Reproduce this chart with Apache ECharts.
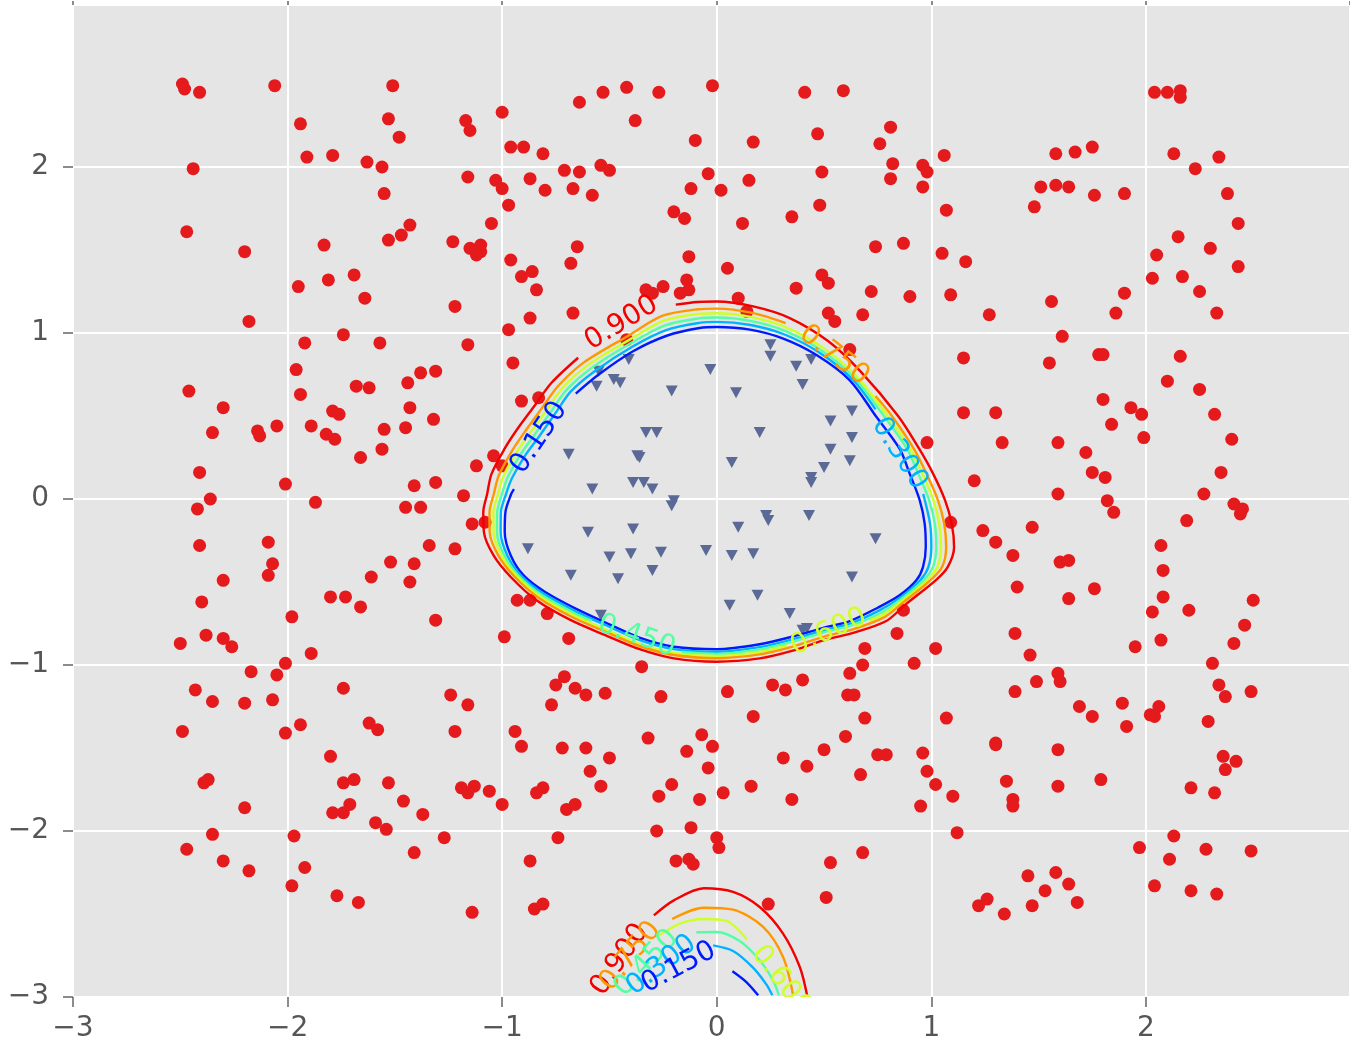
<!DOCTYPE html>
<html><head><meta charset="utf-8">
<script src="https://cdn.jsdelivr.net/npm/echarts/dist/echarts.min.js"></script>
<style>html,body{margin:0;padding:0;background:#fff}#c{width:1350px;height:1047px}</style>
</head><body><div id="c"></div><script>
// ---- data ----
const xTicks = [-3, -2, -1, 0, 1, 2];
const yTicks = [-3, -2, -1, 0, 1, 2];
const levels = [0.15, 0.30, 0.45, 0.60, 0.75, 0.90];
const levelText = ['0.150', '0.300', '0.450', '0.600', '0.750', '0.900'];
const levelColors = ['#001aff', '#00b3ff', '#52ffa4', '#ceff29', '#ff9700', '#f30000'];

const outsidePts = [
[-2.49,2.50],[-2.48,2.47],[-2.41,2.45],[-2.06,2.49],[-1.51,2.49],[-1.94,2.26],[-1.53,2.29],[-1.48,2.18],[-1.17,2.28],[-1.15,2.22],[-1.00,2.33],[-1.91,2.06],[-1.79,2.07],[-1.63,2.03],[-1.56,2.00],[-2.44,1.99],[-1.16,1.94],[-1.03,1.92],[-1.00,1.87],[-1.55,1.84],[-2.47,1.61],[-2.20,1.49],[-1.83,1.53],[-1.53,1.56],[-1.47,1.59],[-1.43,1.65],[-1.23,1.55],[-1.15,1.51],[-1.10,1.53],[-1.10,1.49],[-1.12,1.47],[-1.05,1.66],[-1.95,1.28],[-1.81,1.32],[-1.69,1.35],[-1.64,1.21],[-1.22,1.16],[-2.18,1.07],[-1.74,0.99],[-1.92,0.94],[-1.57,0.94],[-1.16,0.93],[-1.96,0.78],[-1.38,0.76],[-1.31,0.77],[-1.44,0.70],
[-1.68,0.68],[-1.62,0.67],[-2.46,0.65],[-1.94,0.63],[-2.30,0.55],[-1.43,0.55],[-1.79,0.53],[-1.76,0.51],[-1.32,0.48],[-2.35,0.40],[-2.14,0.41],[-2.13,0.38],[-2.05,0.44],[-1.89,0.44],[-1.82,0.39],[-1.78,0.36],[-1.55,0.42],[-1.45,0.43],[-1.56,0.30],[-1.66,0.25],[-1.12,0.20],[-1.04,0.26],[-1.00,0.20],[-2.41,0.16],[-2.01,0.09],[-1.41,0.08],[-1.31,0.10],[-1.18,0.02],[-2.36,0.00],[-2.42,-0.06],[-1.87,-0.02],[-1.45,-0.05],[-1.38,-0.05],[-1.14,-0.15],[-1.08,-0.14],[-2.41,-0.28],[-2.09,-0.26],[-2.07,-0.39],[-2.09,-0.46],[-1.34,-0.28],[-1.22,-0.30],[-1.52,-0.38],[-1.41,-0.39],[-1.61,-0.47],[-1.43,-0.50],[-2.30,-0.49],[-2.40,-0.62],[-1.80,-0.59],[-1.73,-0.59],[-1.66,-0.65],[-1.98,-0.71],[-1.31,-0.73],[-0.99,-0.83],[-2.50,-0.87],[-2.38,-0.82],[-2.30,-0.84],[-2.26,-0.89],[-1.89,-0.93],[-2.01,-0.99],[-2.17,-1.04],[-2.05,-1.06],[-1.74,-1.14],[-2.43,-1.15],[-1.24,-1.18],
[-2.35,-1.22],[-2.20,-1.23],[-2.07,-1.21],[-1.16,-1.24],[-2.49,-1.40],[-2.01,-1.41],[-1.94,-1.36],[-1.62,-1.35],[-1.58,-1.39],[-1.22,-1.40],[-1.80,-1.55],[-2.39,-1.71],[-2.37,-1.69],[-1.74,-1.71],[-1.69,-1.69],[-1.53,-1.71],[-1.19,-1.74],[-1.16,-1.77],[-1.13,-1.73],[-1.06,-1.76],[-1.00,-1.84],[-2.20,-1.86],[-1.79,-1.89],[-1.74,-1.89],[-1.71,-1.84],[-1.46,-1.82],[-1.37,-1.90],[-1.59,-1.95],[-1.54,-1.99],[-2.35,-2.02],[-1.97,-2.03],[-1.27,-2.04],[-2.47,-2.11],[-1.41,-2.13],[-2.30,-2.18],[-2.18,-2.24],[-1.92,-2.22],[-1.98,-2.33],[-1.77,-2.39],[-1.67,-2.43],[-1.14,-2.49],
[-0.64,2.39],[-0.53,2.45],[-0.42,2.48],[-0.27,2.45],[-0.02,2.49],[0.41,2.45],[0.59,2.46],[-0.38,2.28],[-0.96,2.12],[-0.90,2.12],[-0.81,2.08],[-0.10,2.16],[0.17,2.15],[0.47,2.20],[0.81,2.24],[0.76,2.14],[0.82,2.02],[0.81,1.93],[0.96,2.01],[0.96,1.88],[-0.87,1.93],[-0.80,1.86],[-0.97,1.77],[-0.71,1.98],[-0.64,1.97],[-0.67,1.87],[-0.54,2.01],[-0.50,1.98],[-0.58,1.83],[-0.04,1.96],[-0.12,1.87],[0.02,1.86],[0.15,1.92],[0.49,1.97],[0.48,1.77],[0.35,1.70],[0.12,1.66],[-0.20,1.73],[-0.15,1.69],[0.74,1.52],[0.87,1.54],[-0.96,1.44],[-0.65,1.52],[-0.68,1.42],[-0.91,1.34],[-0.86,1.37],[-0.84,1.26],[-0.13,1.46],[0.05,1.39],[-0.14,1.32],[-0.13,1.26],[-0.17,1.24],[-0.33,1.26],[-0.30,1.24],[-0.25,1.28],[0.49,1.35],[0.52,1.30],[0.37,1.27],[0.72,1.25],[0.90,1.22],[0.10,1.21],
[-0.87,1.09],[-0.67,1.12],[-0.97,1.02],[-0.95,0.82],[-0.91,0.59],[-0.83,0.61],[0.14,1.13],[0.52,1.12],[0.55,1.07],[0.68,1.11],[0.62,0.90],[-0.42,0.96],[-0.93,-0.61],[-0.87,-0.61],[-0.79,-0.69],[-0.69,-0.84],[-0.35,-1.01],[-0.71,-1.07],[-0.75,-1.12],[-0.66,-1.14],[0.26,-1.12],[0.32,-1.15],[0.40,-1.09],[0.62,-1.05],[0.68,-1.00],[0.69,-0.90],[0.84,-0.81],[0.92,-0.99],[0.87,-0.67],
[-0.61,-1.18],[-0.52,-1.17],[-0.26,-1.19],[0.05,-1.16],[0.61,-1.18],[0.64,-1.18],[-0.77,-1.24],[0.17,-1.31],[0.69,-1.32],[-0.94,-1.40],[-0.91,-1.49],[-0.72,-1.50],[-0.61,-1.50],[-0.50,-1.56],[-0.32,-1.44],[-0.14,-1.52],[-0.07,-1.42],[-0.02,-1.49],[-0.04,-1.62],[-0.59,-1.64],[-0.54,-1.73],[-0.84,-1.77],[-0.81,-1.74],[-0.70,-1.87],[-0.66,-1.84],[-0.21,-1.72],[-0.27,-1.79],[-0.08,-1.81],[0.03,-1.77],[0.16,-1.73],[0.31,-1.56],[0.42,-1.61],[0.50,-1.51],[0.60,-1.43],[0.67,-1.66],[0.75,-1.54],[0.79,-1.54],[0.96,-1.53],[0.95,-1.85],[0.35,-1.81],[-0.74,-2.04],[-0.87,-2.18],[-0.28,-2.00],[-0.12,-1.98],[0.00,-2.04],[0.01,-2.10],[-0.19,-2.18],[-0.13,-2.17],[-0.11,-2.20],[0.53,-2.19],[0.68,-2.13],[-0.85,-2.47],[-0.81,-2.44],[0.24,-2.44],[0.51,-2.40],
[2.04,2.45],[2.10,2.45],[2.16,2.46],[2.16,2.42],[1.06,2.07],[0.98,1.97],[1.07,1.74],[1.58,2.08],[1.67,2.09],[1.75,2.12],[2.13,2.08],[2.34,2.06],[2.23,1.99],[1.51,1.88],[1.58,1.89],[1.64,1.88],[1.76,1.83],[1.90,1.84],[1.48,1.76],[2.38,1.84],[2.43,1.66],[1.05,1.48],[1.16,1.43],[2.15,1.58],[2.05,1.47],[2.30,1.51],[2.03,1.33],[2.17,1.34],[2.43,1.40],[2.25,1.25],[1.09,1.23],[1.27,1.11],[1.56,1.19],[1.90,1.24],[1.86,1.12],[2.33,1.12],[1.61,0.98],[1.15,0.85],[1.55,0.82],[1.78,0.87],[1.80,0.87],[2.16,0.86],[2.10,0.71],
[2.25,0.66],[1.80,0.60],[1.93,0.55],[1.98,0.51],[1.84,0.45],[2.32,0.51],[1.99,0.37],[2.40,0.36],[1.15,0.52],[1.30,0.52],[0.98,0.34],[1.33,0.34],[1.59,0.34],[1.72,0.28],[1.20,0.11],[1.75,0.16],[1.81,0.13],[1.59,0.03],[2.35,0.16],[2.27,0.03],[1.82,-0.01],[1.85,-0.08],[2.41,-0.03],[2.45,-0.06],[2.44,-0.09],[2.19,-0.13],[1.09,-0.14],[1.24,-0.19],[1.30,-0.26],[1.47,-0.17],[1.38,-0.34],[1.60,-0.38],[1.64,-0.37],[2.07,-0.28],[2.08,-0.43],[1.40,-0.53],[1.76,-0.54],[1.64,-0.60],[2.08,-0.59],[2.50,-0.61],[2.03,-0.68],[2.20,-0.67],[2.46,-0.76],[2.41,-0.87],[1.39,-0.81],[1.02,-0.90],[1.46,-0.94],[1.95,-0.89],[2.07,-0.85],[2.31,-0.99],[1.59,-1.05],[1.60,-1.10],[1.49,-1.10],[1.39,-1.16],[2.34,-1.12],[2.49,-1.16],
[2.37,-1.19],[1.07,-1.32],[1.69,-1.25],[1.75,-1.31],[1.89,-1.23],[1.91,-1.37],[2.02,-1.30],[2.04,-1.31],[2.06,-1.25],[2.29,-1.34],[1.30,-1.47],[1.30,-1.48],[1.59,-1.51],[0.98,-1.64],[1.02,-1.72],[1.10,-1.79],[1.35,-1.70],[1.38,-1.81],[1.38,-1.85],[1.59,-1.73],[1.79,-1.69],[2.36,-1.55],[2.42,-1.58],[2.37,-1.63],[2.21,-1.74],[2.32,-1.77],[1.12,-2.01],[1.97,-2.10],[2.13,-2.03],[2.11,-2.17],[2.28,-2.11],[2.49,-2.12],[1.45,-2.27],[1.58,-2.25],[1.64,-2.32],[1.53,-2.36],[1.22,-2.45],[1.26,-2.41],[1.34,-2.50],[1.47,-2.45],[1.68,-2.43],[2.04,-2.33],[2.21,-2.36],[2.33,-2.38]
];

const insidePts = [
[0.25,0.93],[0.25,0.86],[0.37,0.80],[0.44,0.84],[0.40,0.69],[-0.41,0.84],[-0.55,0.77],[-0.56,0.68],[-0.48,0.72],[-0.45,0.70],[-0.21,0.65],[-0.03,0.78],[0.09,0.64],[0.63,0.53],[0.53,0.47],[0.63,0.37],[0.53,0.30],[0.62,0.23],[0.50,0.19],[0.44,0.13],[0.44,0.10],[-0.33,0.40],[-0.28,0.40],[0.20,0.40],[-0.69,0.27],[-0.37,0.26],[-0.36,0.25],[0.07,0.22],[-0.58,0.06],[-0.39,0.10],[-0.34,0.10],[-0.30,0.06],[-0.20,-0.01],[-0.21,-0.04],[0.23,-0.10],[0.24,-0.13],[0.43,-0.10],[-0.60,-0.20],[-0.39,-0.18],[0.10,-0.17],[-0.88,-0.30],[-0.50,-0.35],[-0.40,-0.33],[-0.26,-0.32],[-0.05,-0.31],[0.07,-0.34],[0.17,-0.33],[0.74,-0.24],[-0.68,-0.46],[-0.46,-0.48],[-0.30,-0.43],[0.63,-0.47],[0.19,-0.58],[0.06,-0.64],[0.34,-0.69],[0.42,-0.78],[0.40,-0.79],[-0.54,-0.70]
];

// contour lines (level index, points)
const loop150 = [[-0.657,0.635],[-0.55,0.75],[-0.39,0.89],[-0.23,0.985],[-0.08,1.03],[0,1.036],[0.155,1.02],[0.31,0.966],[0.465,0.867],[0.62,0.715],[0.741,0.5],[0.852,0.303],[0.899,0.153],[0.946,-0.008],[0.969,-0.149],[0.974,-0.289],[0.961,-0.41],[0.93,-0.49],[0.852,-0.58],[0.75,-0.655],[0.62,-0.735],[0.5,-0.775],[0.35,-0.83],[0.2,-0.875],[0,-0.905],[-0.2,-0.89],[-0.35,-0.84],[-0.5,-0.755],[-0.65,-0.665],[-0.8,-0.56],[-0.9,-0.46],[-0.96,-0.34],[-0.988,-0.2],[-0.985,-0.08],[-0.958,0.03],[-0.945,0.06]];
const loop300 = [[0.962,0.03],[0.994,-0.149],[1.0,-0.289],[0.986,-0.41],[0.948,-0.49],[0.858,-0.591],[0.758,-0.671],[0.624,-0.749],[0.5,-0.79],[0.35,-0.847],[0.2,-0.892],[0,-0.92],[-0.2,-0.904],[-0.352,-0.853],[-0.504,-0.768],[-0.656,-0.678],[-0.808,-0.57],[-0.912,-0.462],[-0.976,-0.34],[-1.007,-0.2],[-1.006,-0.08],[-0.982,0.03],[-0.954,0.126],[-0.894,0.26],[-0.826,0.38],[-0.746,0.528],[-0.68,0.648],[-0.569,0.77],[-0.396,0.916],[-0.236,1.018],[-0.082,1.061],[0,1.067],[0.158,1.048],[0.316,0.991],[0.476,0.884],[0.63,0.725],[0.74,0.54]];
const loop450 = [[-0.584,-0.733],[-0.661,-0.689],[-0.815,-0.579],[-0.922,-0.464],[-0.99,-0.34],[-1.024,-0.2],[-1.023,-0.08],[-1.001,0.03],[-0.974,0.131],[-0.914,0.269],[-0.848,0.389],[-0.768,0.535],[-0.699,0.659],[-0.586,0.787],[-0.401,0.938],[-0.241,1.046],[-0.084,1.088],[0,1.093],[0.161,1.072],[0.321,1.012],[0.485,0.898],[0.639,0.734],[0.779,0.5],[0.886,0.303],[0.939,0.153],[0.99,-0.008],[1.016,-0.149],[1.023,-0.289],[1.007,-0.41],[0.963,-0.49],[0.862,-0.6],[0.765,-0.685],[0.627,-0.761],[0.5,-0.803],[0.35,-0.861],[0.2,-0.906],[0,-0.933],[-0.164,-0.921]];
const loop600 = [[0.33,-0.882],[0.2,-0.921],[0,-0.946],[-0.2,-0.928],[-0.355,-0.875],[-0.511,-0.79],[-0.666,-0.7],[-0.822,-0.587],[-0.932,-0.465],[-1.003,-0.34],[-1.04,-0.2],[-1.041,-0.08],[-1.019,0.03],[-0.995,0.136],[-0.935,0.277],[-0.87,0.397],[-0.79,0.542],[-0.718,0.67],[-0.602,0.805],[-0.406,0.96],[-0.246,1.074],[-0.085,1.115],[0,1.119],[0.163,1.096],[0.326,1.033],[0.495,0.912],[0.648,0.743],[0.797,0.5],[0.901,0.303],[0.958,0.153],[1.01,-0.008],[1.037,-0.149],[1.045,-0.289],[1.028,-0.41],[0.979,-0.49],[0.867,-0.61],[0.772,-0.698],[0.71,-0.731]];
const loop750 = [[0.74,0.62],[0.816,0.5],[0.918,0.303],[0.977,0.153],[1.031,-0.008],[1.06,-0.149],[1.069,-0.289],[1.05,-0.41],[0.995,-0.49],[0.872,-0.62],[0.779,-0.713],[0.634,-0.785],[0.5,-0.829],[0.35,-0.891],[0.2,-0.936],[0,-0.959],[-0.2,-0.94],[-0.357,-0.887],[-0.514,-0.802],[-0.672,-0.712],[-0.829,-0.596],[-0.943,-0.467],[-1.018,-0.34],[-1.058,-0.2],[-1.059,-0.08],[-1.039,0.03],[-1.016,0.142],[-0.956,0.286],[-0.894,0.406],[-0.814,0.549],[-0.738,0.682],[-0.619,0.823],[-0.412,0.984],[-0.252,1.104],[-0.087,1.143],[0,1.147],[0.166,1.121],[0.321,1.06]];
const loop900 = [[-0.191,1.171],[-0.09,1.187],[0,1.19],[0.17,1.16],[0.34,1.09],[0.52,0.95],[0.672,0.766],[0.845,0.5],[0.943,0.303],[1.008,0.153],[1.064,-0.008],[1.095,-0.149],[1.106,-0.289],[1.076,-0.41],[1.02,-0.49],[0.88,-0.635],[0.79,-0.735],[0.64,-0.805],[0.5,-0.85],[0.35,-0.915],[0.2,-0.96],[0,-0.98],[-0.2,-0.96],[-0.36,-0.905],[-0.52,-0.82],[-0.68,-0.73],[-0.84,-0.61],[-0.96,-0.47],[-1.04,-0.34],[-1.085,-0.2],[-1.088,-0.08],[-1.07,0.03],[-1.05,0.15],[-0.99,0.30],[-0.93,0.42],[-0.85,0.56],[-0.77,0.70],[-0.646,0.851]];

const tail150 = [[0.073,-2.845],[0.138,-2.910],[0.193,-2.99]];
const tail300 = [[-0.017,-2.689],[0.076,-2.723],[0.169,-2.823],[0.231,-2.924],[0.259,-2.99]];
const tail450 = [[-0.095,-2.610],[-0.002,-2.608],[0.107,-2.663],[0.200,-2.779],[0.262,-2.900],[0.290,-2.99]];
const tail600 = [[-0.281,-2.639],[-0.172,-2.558],[-0.061,-2.530],[0.045,-2.542],[0.141,-2.655]];
const tail750 = [[-0.208,-2.530],[-0.061,-2.462],[0.076,-2.474],[0.216,-2.578],[0.309,-2.759],[0.356,-2.99]];
const tail900 = [[-0.293,-2.508],[-0.2,-2.418],[-0.06,-2.345],[0.076,-2.367],[0.2,-2.458],[0.309,-2.618],[0.387,-2.819],[0.421,-2.99]];

// contour labels: x, y, rotation (deg, ccw), level index
const contourLabels = [
  [-0.444, 1.060, 31, 5], [0.547, 0.865, -38, 4], [0.852, 0.273, -57, 1],
  [-0.828, 0.369, 56, 0], [-0.374, -0.827, -19, 2], [0.522, -0.801, 24, 3],
  [-0.452, -2.775, 55, 5], [-0.402, -2.755, 51, 4], [-0.328, -2.795, 47, 2],
  [-0.258, -2.809, 38, 1], [-0.177, -2.823, 28, 0], [0.301, -2.900, -52, 3]
];

const contourSegs = [
  [0, loop150], [1, loop300], [2, loop450], [3, loop600], [4, loop750], [5, loop900],
  [0, tail150], [1, tail300], [2, tail450], [3, tail600], [4, tail750], [5, tail900]
];

// ---- chart ----
const chart = echarts.init(document.getElementById('c'), null, {renderer: 'canvas'});
const FONT = '"DejaVu Sans", "Liberation Sans", sans-serif';
const minusFmt = v => (v < 0 ? '\u2212' + Math.abs(v) : String(v));

const axisCommon = {
  type: 'value', min: -3, interval: 1,
  axisLine: {show: false, onZero: false},
  axisTick: {show: true, length: 10, lineStyle: {color: '#666', width: 1.5}},
  splitLine: {show: true, lineStyle: {color: '#ffffff', width: 2}},
  axisLabel: {color: '#555555', fontSize: 28, fontFamily: FONT, formatter: minusFmt, showMaxLabel: false}
};

const series = [
  {type: 'scatter', data: outsidePts, symbol: 'circle', symbolSize: 13,
   itemStyle: {color: '#e41a1c', opacity: 1}, z: 2, silent: true},
  {type: 'scatter', data: insidePts, symbol: 'triangle', symbolRotate: 180, symbolSize: [12, 11],
   itemStyle: {color: '#5a6996', opacity: 1}, z: 2, silent: true}
];
contourSegs.forEach(([li, pts]) => {
  series.push({type: 'line', data: pts, showSymbol: false, smooth: 0.3, clip: true,
    lineStyle: {color: levelColors[li], width: 2.4}, z: 3, silent: true});
});
series.push({
  type: 'custom', data: contourLabels, clip: true, z: 4, silent: true,
  renderItem: (params, api) => {
    const p = api.coord([api.value(0), api.value(1)]);
    const li = api.value(3);
    return {
      type: 'text', x: p[0], y: p[1], rotation: api.value(2) * Math.PI / 180,
      style: {text: levelText[li], fill: levelColors[li], fontSize: 28, fontFamily: FONT,
              align: 'center', verticalAlign: 'middle'}
    };
  }
});

chart.setOption({
  animation: false,
  backgroundColor: '#ffffff',
  grid: {left: 73, right: 0, top: 5, bottom: 50, show: true, backgroundColor: '#e5e5e5', borderWidth: 0},
  xAxis: [
    Object.assign({}, axisCommon, {max: 2.951, position: 'bottom', axisLabel: Object.assign({}, axisCommon.axisLabel, {margin: 18})}),
    Object.assign({}, axisCommon, {max: 2.951, position: 'top', axisTick: {show: true, length: 4, lineStyle: {color: '#666', width: 1.5}}, axisLabel: {show: false}, splitLine: {show: false}})
  ],
  yAxis: Object.assign({}, axisCommon, {max: 2.976, axisLabel: Object.assign({}, axisCommon.axisLabel, {margin: 24})}),
  series: series
});
</script></body></html>
